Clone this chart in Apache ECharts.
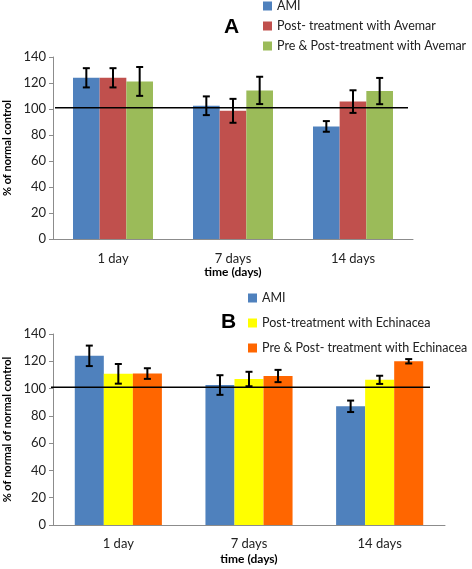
<!DOCTYPE html>
<html>
<head>
<meta charset="utf-8">
<script src="https://cdn.jsdelivr.net/npm/echarts@6/dist/echarts.min.js"></script>
<style>html,body{margin:0;padding:0;background:#fff}#c{width:472px;height:569px}</style>
</head>
<body>
<div id="c"></div>
<script>
// ---- data ----
const categories = ['1 day', '7 days', '14 days'];
const yTicks = [0, 20, 40, 60, 80, 100, 120, 140];
const refLevel = 101;

const namesA = ['AMI', 'Post- treatment with Avemar', 'Pre & Post-treatment with Avemar'];
const amiA = [124, 102.5, 86.6];
const amiAErr = [7.4, 7.2, 4.1];
const postAvemar = [124, 98.6, 105.7];
const postAvemarErr = [7.4, 9.2, 8.7];
const prePostAvemar = [121.2, 114.3, 113.8];
const prePostAvemarErr = [11.1, 10.5, 10.1];

const namesB = ['AMI', 'Post-treatment with Echinacea', 'Pre & Post- treatment with Echinacea'];
const amiB = [124, 102.6, 87];
const amiBErr = [7.5, 7.2, 4.2];
const postEch = [110.8, 107, 106.4];
const postEchErr = [7.2, 5.3, 3];
const prePostEch = [111, 109.2, 120];
const prePostEchErr = [3.9, 4.5, 1.6];

// ---- styles ----
const colorsA = ['#4F81BD', '#C0504D', '#9BBB59'];
const colorsB = ['#4F81BD', '#FFFF00', '#FF6600'];
const FONT = 'Lato';
const GAP = 1 / 3;

function errSeries(vals, errs, idx, gi) {
  return {
    type: 'custom', xAxisIndex: gi, yAxisIndex: gi, z: 10, silent: true,
    data: vals.map((v, i) => [i, v - errs[i], v + errs[i]]),
    renderItem: function (params, api) {
      const band = api.size([1, 0])[0];
      const bw = band * (1 - GAP) / 3;
      const c = api.coord([api.value(0), api.value(1)]);
      const x = c[0] + (idx - 1) * bw;
      const yLo = c[1];
      const yHi = api.coord([api.value(0), api.value(2)])[1];
      const cap = 3.5;
      const st = { stroke: '#000', lineWidth: 2 };
      return { type: 'group', children: [
        { type: 'line', shape: { x1: x, y1: yLo, x2: x, y2: yHi }, style: st },
        { type: 'line', shape: { x1: x - cap, y1: yLo, x2: x + cap, y2: yLo }, style: st },
        { type: 'line', shape: { x1: x - cap, y1: yHi, x2: x + cap, y2: yHi }, style: st }
      ]};
    }
  };
}

function refLine(gi, leftPad, rightPad) {
  return {
    type: 'custom', xAxisIndex: gi, yAxisIndex: gi, z: 11, silent: true,
    data: [[0, refLevel]],
    renderItem: function (params, api) {
      const cs = params.coordSys;
      const y = api.coord([0, api.value(1)])[1];
      return { type: 'line', shape: { x1: cs.x + leftPad, y1: y, x2: cs.x + cs.width - rightPad, y2: y },
        style: { stroke: '#000', lineWidth: 1.5 } };
    }
  };
}

function barSeries(name, vals, color, gi) {
  return { name: name, type: 'bar', xAxisIndex: gi, yAxisIndex: gi, data: vals,
    barGap: '0%', barCategoryGap: (GAP * 100) + '%', itemStyle: { color: color }, z: 2 };
}

function xAxis(gi, margin, nameGap) {
  return { type: 'category', gridIndex: gi, data: categories,
    axisLine: { lineStyle: { color: '#8C8C8C', width: 1 } }, axisTick: { show: false },
    axisLabel: { color: '#222', fontFamily: FONT, fontSize: 13, margin: margin },
    name: 'time (days)', nameLocation: 'middle', nameGap: nameGap,
    nameTextStyle: { color: '#000', fontFamily: FONT, fontWeight: 'bold', fontSize: 12 } };
}
function yAxis(gi, name, nameGap) {
  return { type: 'value', gridIndex: gi, min: yTicks[0], max: yTicks[yTicks.length - 1], interval: 20,
    axisLine: { show: true, lineStyle: { color: '#8C8C8C' } },
    axisTick: { show: true, length: 4, lineStyle: { color: '#8C8C8C' } },
    splitLine: { show: false },
    axisLabel: { color: '#222', fontFamily: FONT, fontSize: 13, margin: 7 },
    name: name, nameLocation: 'middle', nameGap: nameGap, nameRotate: 90,
    nameTextStyle: { color: '#000', fontFamily: FONT, fontWeight: 'bold', fontSize: 11 } };
}

const chart = echarts.init(document.getElementById('c'), null, { renderer: 'canvas' });
chart.setOption({
  animation: false,
  backgroundColor: '#fff',
  title: [
    { text: 'A', left: 219, top: 12, textStyle: { fontFamily: 'Liberation Sans', fontWeight: 'bold', fontSize: 21, color: '#000' } },
    { text: 'B', left: 216, top: 307, textStyle: { fontFamily: 'Liberation Sans', fontWeight: 'bold', fontSize: 21, color: '#000' } }
  ],
  legend: [
    { data: namesA.map((n, i) => ({ name: n, itemStyle: { color: colorsA[i] } })), orient: 'vertical', left: 263, top: -1,
      padding: 0, itemWidth: 9, itemHeight: 9, itemGap: 6, icon: 'rect',
      textStyle: { fontFamily: FONT, fontSize: 12.5, color: '#222', lineHeight: 14 } },
    { data: namesB.map((n, i) => ({ name: n, itemStyle: { color: colorsB[i] } })), orient: 'vertical', left: 248, top: 291,
      padding: 0, itemWidth: 9, itemHeight: 9, itemGap: 11, icon: 'rect',
      textStyle: { fontFamily: FONT, fontSize: 12.5, color: '#222', lineHeight: 14 } }
  ],
  grid: [
    { left: 53, top: 57, width: 360, height: 182, outerBoundsMode: 'none', containLabel: false },
    { left: 53, top: 334, width: 392, height: 191, outerBoundsMode: 'none', containLabel: false }
  ],
  xAxis: [xAxis(0, 13, 23), xAxis(1, 12, 28)],
  yAxis: [yAxis(0, '% of normal control', 40), yAxis(1, '% of normal of normal control', 40)],
  series: [
    barSeries(namesA[0], amiA, colorsA[0], 0),
    barSeries(namesA[1], postAvemar, colorsA[1], 0),
    barSeries(namesA[2], prePostAvemar, colorsA[2], 0),
    errSeries(amiA, amiAErr, 0, 0),
    errSeries(postAvemar, postAvemarErr, 1, 0),
    errSeries(prePostAvemar, prePostAvemarErr, 2, 0),
    refLine(0, 2, 5),
    barSeries(namesB[0], amiB, colorsB[0], 1),
    barSeries(namesB[1], postEch, colorsB[1], 1),
    barSeries(namesB[2], prePostEch, colorsB[2], 1),
    errSeries(amiB, amiBErr, 0, 1),
    errSeries(postEch, postEchErr, 1, 1),
    errSeries(prePostEch, prePostEchErr, 2, 1),
    refLine(1, -2, 15)
  ]
});
</script>
</body>
</html>
